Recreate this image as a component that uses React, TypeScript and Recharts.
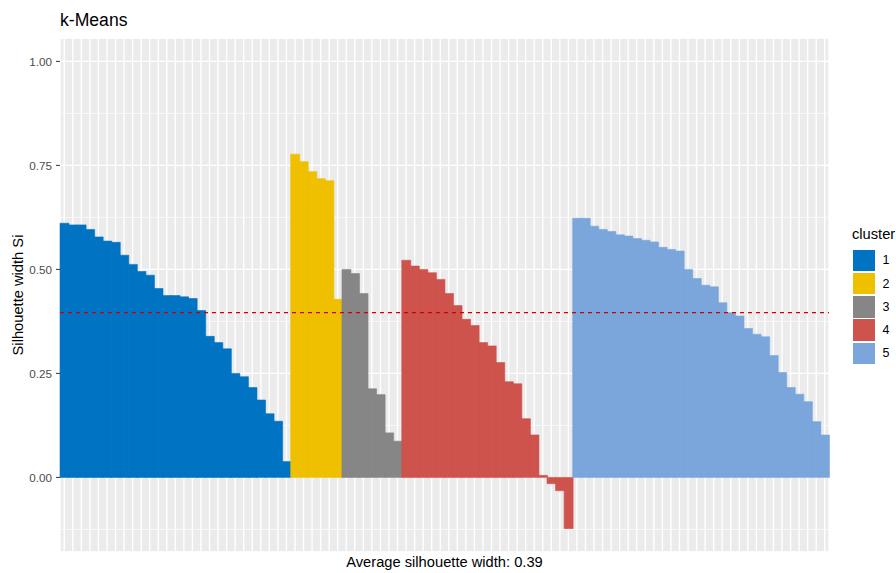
import { Bar, BarChart, CartesianGrid, Cell, ReferenceLine, XAxis, YAxis } from "recharts";

const cluster1 = [0.611, 0.607, 0.607, 0.596, 0.578, 0.568, 0.565, 0.534, 0.512, 0.495, 0.486, 0.454, 0.437, 0.437, 0.434, 0.43, 0.401, 0.339, 0.324, 0.309, 0.25, 0.242, 0.216, 0.186, 0.153, 0.135, 0.038];
const cluster2 = [0.777, 0.759, 0.735, 0.718, 0.713, 0.428];
const cluster3 = [0.5, 0.49, 0.442, 0.213, 0.199, 0.107, 0.087];
const cluster4 = [0.522, 0.508, 0.5, 0.492, 0.476, 0.442, 0.413, 0.38, 0.365, 0.324, 0.316, 0.276, 0.23, 0.225, 0.141, 0.102, 0.005, -0.015, -0.032, -0.123];
const cluster5 = [0.623, 0.623, 0.604, 0.596, 0.591, 0.583, 0.58, 0.574, 0.57, 0.566, 0.553, 0.548, 0.544, 0.5, 0.478, 0.462, 0.458, 0.42, 0.396, 0.388, 0.358, 0.344, 0.338, 0.293, 0.252, 0.216, 0.2, 0.182, 0.134, 0.102];

const clusterNames = ["1", "2", "3", "4", "5"];
const yTicks = [0, 0.25, 0.5, 0.75, 1];
const yMinor = [-0.125, 0.125, 0.375, 0.625, 0.875];
const avgWidth = 0.396;
const avgLabel = "0.39";

const palette = ["#0073C2", "#EFC000", "#868686", "#CD534C", "#7AA6DC"];
const font = "'Liberation Sans', Arial, sans-serif";
const yDomain = [-0.1793, 1.0562];

const rows = [cluster1, cluster2, cluster3, cluster4, cluster5].flatMap((vals, c) =>
  vals.map((v, i) => ({ id: `${c + 1}-${i}`, cluster: c, width: v }))
);

export default function App() {
  return (
    <div style={{ position: "absolute", left: 0, top: 0, width: 896, height: 573, background: "#fff", fontFamily: font }}>
      <div style={{ position: "absolute", left: 60, top: 10, fontSize: 17.6, color: "#000" }}>k-Means</div>
      <BarChart
        width={896}
        height={573}
        data={rows}
        barCategoryGap={0}
        barGap={0}
        margin={{ top: 38, right: 67, bottom: 0, left: 0 }}
      >
        <CartesianGrid
          fill="#EBEBEB"
          fillOpacity={1}
          stroke="#FFFFFF"
          strokeWidth={1.4}
        />
        <CartesianGrid yAxisId="minor" vertical={false} stroke="#FFFFFF" strokeWidth={0.7} />
        <XAxis
          dataKey="id"
          interval={0}
          tick={() => <g />}
          tickLine={false}
          axisLine={false}
          height={21}
          label={{
            content: ({ viewBox }: any) => (
              <text
                x={viewBox.x + viewBox.width / 2}
                y={viewBox.y + 15}
                textAnchor="middle"
                fontSize={14.7}
                fill="#000"
                fontFamily={font}
              >
                Average silhouette width: {avgLabel}
              </text>
            ),
          }}
        />
        <YAxis
          type="number"
          domain={yDomain}
          allowDataOverflow
          ticks={yTicks}
          tickFormatter={(v: number) => v.toFixed(2)}
          width={60}
          axisLine={false}
          tickSize={4}
          tickMargin={4}
          tickLine={{ stroke: "#333333" }}
          tick={{ fill: "#4D4D4D", fontSize: 11.7, fontFamily: font }}
          label={{
            content: ({ viewBox }: any) => (
              <text
                x={18}
                y={viewBox.y + viewBox.height / 2}
                transform={`rotate(-90 18 ${viewBox.y + viewBox.height / 2})`}
                textAnchor="middle"
                dominantBaseline="central"
                fontSize={14.7}
                fill="#000"
                fontFamily={font}
              >
                Silhouette width Si
              </text>
            ),
          }}
        />
        <YAxis yAxisId="minor" type="number" domain={yDomain} allowDataOverflow ticks={yMinor} hide />
        <Bar dataKey="width" isAnimationActive={false}>
          {rows.map((r) => (
            <Cell key={r.id} fill={palette[r.cluster]} stroke={palette[r.cluster]} strokeWidth={0.6} />
          ))}
        </Bar>
        <ReferenceLine y={avgWidth} stroke="#D00000" strokeWidth={1.1} strokeDasharray="4 4" />
      </BarChart>
      <div style={{ position: "absolute", left: 852, top: 226, fontSize: 14.7, color: "#000" }}>cluster</div>
      {clusterNames.map((name, i) => (
        <div key={name} style={{ position: "absolute", left: 853, top: 249.5 + i * 23.3, height: 21.5, display: "flex", alignItems: "center" }}>
          <div style={{ width: 21.5, height: 21.5, background: palette[i] }} />
          <span style={{ marginLeft: 8, fontSize: 12.5, color: "#000" }}>{name}</span>
        </div>
      ))}
    </div>
  );
}
